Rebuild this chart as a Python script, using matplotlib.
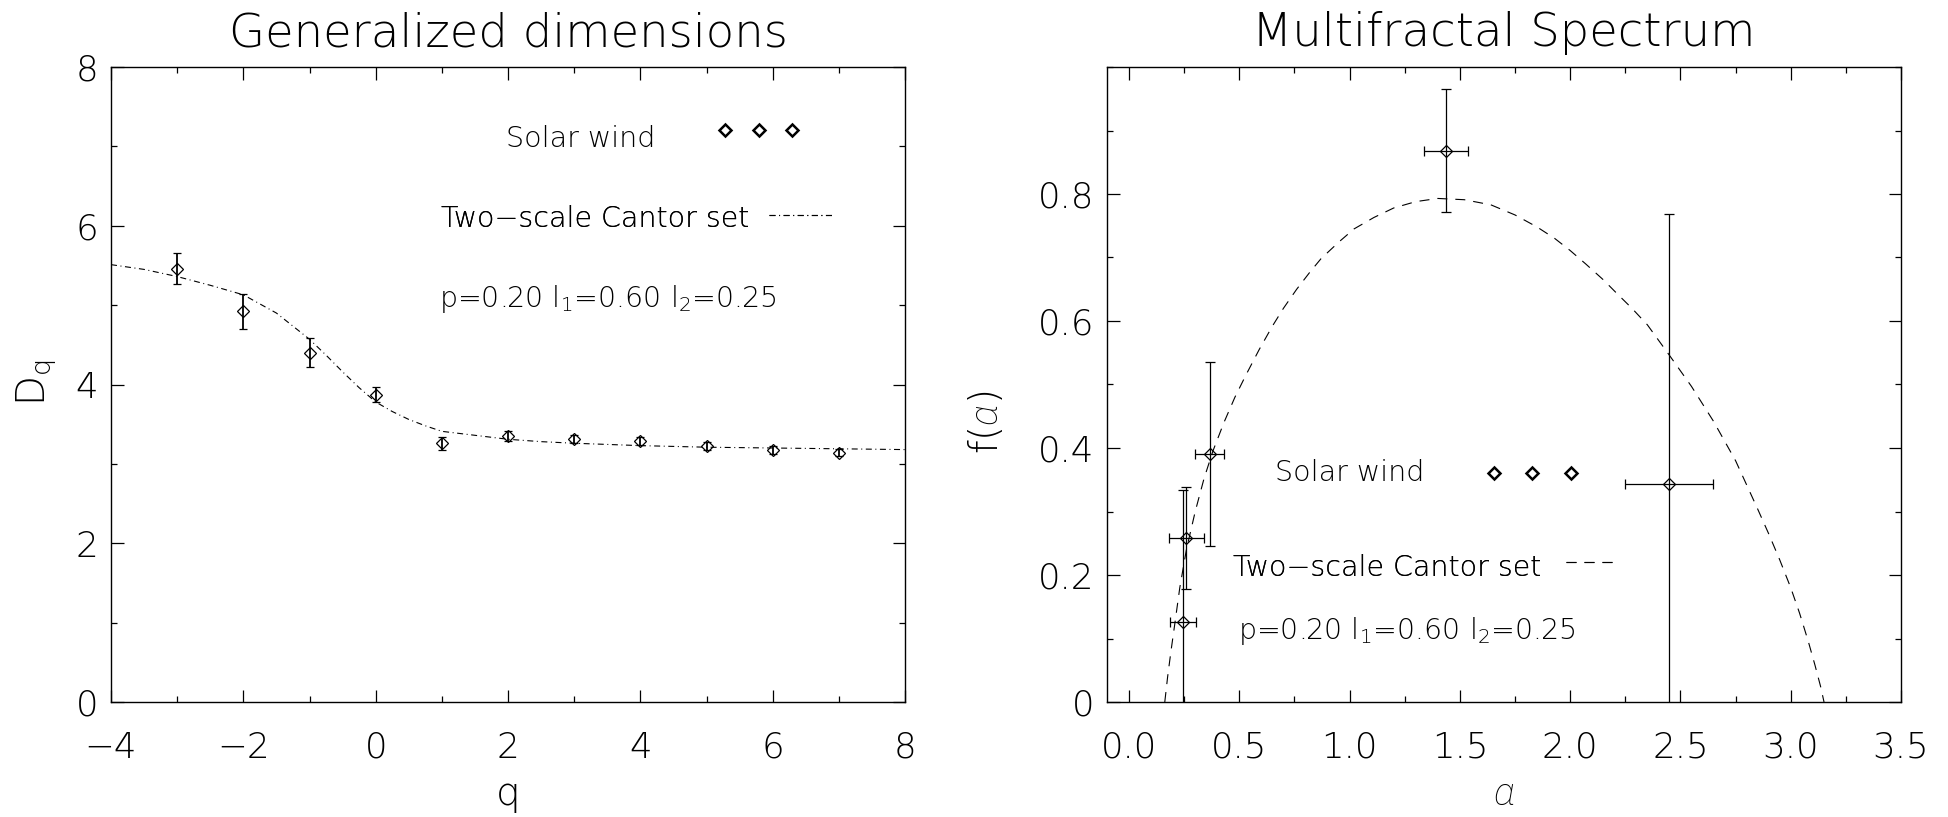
import matplotlib
matplotlib.use("Agg")
import matplotlib.pyplot as plt
from matplotlib.lines import Line2D
from matplotlib.ticker import MultipleLocator

# ---- Generalized dimensions (left panel) ----
q_vals = [-3, -2, -1, 0, 1, 2, 3, 4, 5, 6, 7]
dq_vals = [5.46, 4.92, 4.40, 3.87, 3.26, 3.35, 3.31, 3.29, 3.23, 3.18, 3.14]
dq_err = [0.20, 0.22, 0.185, 0.095, 0.08, 0.065, 0.05, 0.05, 0.05, 0.05, 0.045]

# two-scale Cantor set model curve
q_model = [-4.0, -3.5, -3.0, -2.5, -2.0, -1.5, -1.0, -0.75, -0.5, -0.25, 0.0,
           0.25, 0.5, 0.75, 1.0, 1.5, 2.0, 2.5, 3.0, 4.0, 5.0, 6.0, 7.0, 8.0]
dq_model = [5.51, 5.45, 5.36, 5.25, 5.13, 4.90, 4.57, 4.37, 4.16, 3.96, 3.78,
            3.66, 3.56, 3.48, 3.41, 3.36, 3.31, 3.28, 3.26, 3.23, 3.21, 3.20, 3.19, 3.18]

# ---- Multifractal spectrum (right panel) ----
alpha_vals = [1.436, 2.449, 0.366, 0.259, 0.245]
f_vals = [0.868, 0.344, 0.390, 0.258, 0.126]
alpha_err = [0.10, 0.20, 0.066, 0.08, 0.059]
f_err = [0.097, 0.425, 0.145, 0.08, 0.208]

alpha_model = [0.162, 0.175, 0.19, 0.207, 0.23, 0.26, 0.30, 0.34, 0.38, 0.43, 0.48,
               0.53, 0.59, 0.65, 0.70, 0.76, 0.82, 0.87, 0.95, 1.02, 1.11, 1.20,
               1.30, 1.40, 1.52, 1.64, 1.75, 1.85, 1.93, 2.00, 2.07, 2.15, 2.21,
               2.28, 2.35, 2.45, 2.55, 2.65, 2.75, 2.85, 2.90, 2.95, 3.00, 3.04,
               3.08, 3.11, 3.135, 3.151]
f_model = [0.0, 0.04, 0.08, 0.122, 0.18, 0.240, 0.300, 0.352, 0.395, 0.440, 0.480,
           0.515, 0.555, 0.592, 0.620, 0.650, 0.677, 0.698, 0.724, 0.745, 0.763, 0.778,
           0.788, 0.793, 0.791, 0.783, 0.767, 0.748, 0.730, 0.711, 0.690, 0.665, 0.644,
           0.620, 0.594, 0.546, 0.497, 0.442, 0.380, 0.304, 0.265, 0.224, 0.180, 0.140,
           0.095, 0.058, 0.025, 0.0]

# ---- tick labels and texts ----
left_xticks = [-4, -2, 0, 2, 4, 6, 8]
left_xlabels = ["\u22124", "\u22122", "0", "2", "4", "6", "8"]
left_yticks = [0, 2, 4, 6, 8]
left_ylabels = ["0", "2", "4", "6", "8"]
right_xticks = [0.0, 0.5, 1.0, 1.5, 2.0, 2.5, 3.0, 3.5]
right_xlabels = ["0.0", "0.5", "1.0", "1.5", "2.0", "2.5", "3.0", "3.5"]
right_yticks = [0.0, 0.2, 0.4, 0.6, 0.8]
right_ylabels = ["0", "0.2", "0.4", "0.6", "0.8"]

data_label = "Solar wind"
model_label = "Two\u2212scale Cantor set"
param_text = "p=0.20 l$_1$=0.60 l$_2$=0.25"

plt.rcParams['font.family'] = ['DejaVu Sans']
plt.rcParams['font.weight'] = 'light'
plt.rcParams['axes.titleweight'] = 'light'
plt.rcParams['axes.labelweight'] = 'light'
plt.rcParams['mathtext.fontset'] = 'custom'
plt.rcParams['mathtext.rm'] = 'DejaVu Sans:light'
plt.rcParams['mathtext.it'] = 'Roboto:italic:light'
plt.rcParams['axes.linewidth'] = 1.0

TICK_FS = 25.7
LABEL_FS = 28
TITLE_FS = 33.5
KEY_FS = 20.5


def style_axes(ax, xticks, xlabels, yticks, ylabels, xminor, yminor):
    ax.set_xticks(xticks, xlabels, fontweight='light')
    ax.set_yticks(yticks, ylabels, fontweight='light')
    ax.xaxis.set_minor_locator(MultipleLocator(xminor))
    ax.yaxis.set_minor_locator(MultipleLocator(yminor))
    ax.tick_params(which='both', direction='in', top=True, right=True,
                   width=0.9, colors='k', labelsize=TICK_FS)
    ax.tick_params(which='major', length=9)
    ax.tick_params(which='minor', length=4.5)
    ax.tick_params(axis='x', which='both', pad=20.8)
    ax.tick_params(axis='y', which='both', pad=9.3)


def add_key(ax, handle, label, xy, hlen, hpad, hheight, npts):
    leg = ax.legend([handle], [label], loc='lower left', bbox_to_anchor=xy,
                    bbox_transform=ax.transAxes, frameon=False, borderpad=0,
                    borderaxespad=0, handlelength=hlen, handletextpad=hpad,
                    handleheight=hheight, numpoints=npts, markerfirst=False,
                    prop=dict(size=KEY_FS, weight='light'))
    ax.add_artist(leg)


fig = plt.figure(figsize=(19.48, 8.17), dpi=100)
ax1 = fig.add_axes([111 / 1948, 115 / 817, 794 / 1948, 635 / 817])
ax2 = fig.add_axes([1107 / 1948, 115 / 817, 794 / 1948, 635 / 817])

diamond = dict(fmt='D', ms=6.3, mfc='none', mec='k', mew=0.9, ecolor='k')
dashdot = (5.4, 3.2, 0.9, 3.2)
dashed = (9, 7.2)

# left panel
ax1.errorbar(q_vals, dq_vals, yerr=dq_err, elinewidth=1.3, capsize=3,
             capthick=1.3, **diamond)
ax1.plot(q_model, dq_model, color='k', lw=0.8, dashes=dashdot)
ax1.set_xlim(-4, 8)
ax1.set_ylim(0, 8)
style_axes(ax1, left_xticks, left_xlabels, left_yticks, left_ylabels, 1, 1)
ax1.set_title("Generalized dimensions", fontsize=TITLE_FS, pad=15)
ax1.set_xlabel("q", fontsize=LABEL_FS)
ax1.xaxis.set_label_coords(0.5, -0.162)
ax1.xaxis.label.set_va('baseline')
ax1.set_ylabel("D$_{\\rm q}$", fontsize=LABEL_FS)
ax1.yaxis.set_label_coords(-0.084, 0.502)
ax1.yaxis.label.set_va('baseline')

key_marker = Line2D([], [], ls='none', marker='D', ms=6.1, mfc='none', mec='k', mew=1.8)
add_key(ax1, key_marker, data_label, (0.4970, 0.8468), 2.95, 2.17, 2.39, 3)
add_key(ax1, Line2D([], [], color='k', lw=0.8, dashes=dashdot), model_label,
        (0.4156, 0.7392), 2.27, 0.68, 1.18, 1)
ax1.text(0.963, 4.971, param_text, fontsize=KEY_FS)

# right panel
ax2.errorbar(alpha_vals, f_vals, xerr=alpha_err, yerr=f_err, elinewidth=0.9,
             capsize=3.8, capthick=0.9, **diamond)
ax2.plot(alpha_model, f_model, color='k', lw=0.8, dashes=dashed)
ax2.set_xlim(-0.1, 3.5)
ax2.set_ylim(0, 1.0)
style_axes(ax2, right_xticks, right_xlabels, right_yticks, right_ylabels, 0.25, 0.1)
ax2.set_title("Multifractal Spectrum", fontsize=TITLE_FS, pad=15)
ax2.set_xlabel("$\\alpha$", fontsize=LABEL_FS)
ax2.xaxis.set_label_coords(0.5, -0.162)
ax2.xaxis.label.set_va('baseline')
ax2.set_ylabel("f($\\alpha$)", fontsize=LABEL_FS)
ax2.yaxis.set_label_coords(-0.137, 0.441)
ax2.yaxis.label.set_va('baseline')

add_key(ax2, key_marker, data_label, (0.2113, 0.3392), 3.32, 2.14, 0.10, 3)
add_key(ax2, Line2D([], [], color='k', lw=0.8, dashes=dashed), model_label,
        (0.1584, 0.1825), 1.87, 0.864, 1.71, 1)
ax2.text(0.493, 0.0987, param_text, fontsize=KEY_FS)

fig.savefig("out.png", dpi=100)
